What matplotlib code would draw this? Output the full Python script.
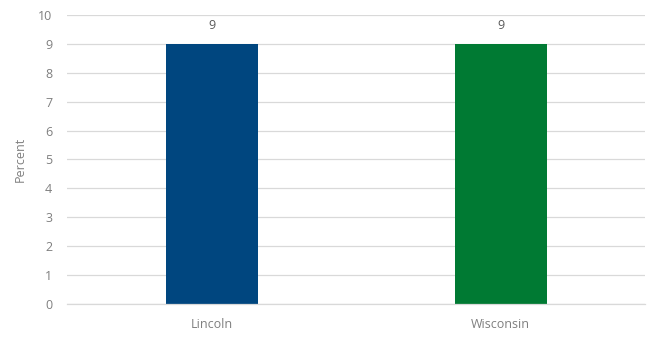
import matplotlib.pyplot as plt

# ── Data ──────────────────────────────────────────────────────────────────────
categories = ['Lincoln', 'Wisconsin']
values     = [9, 9]
bar_colors = ['#00467F', '#007A33']

# ── Style & Layout ────────────────────────────────────────────────────────────
plt.rcParams['font.family'] = ['Open Sans', 'DejaVu Sans']
fig = plt.figure(figsize=(6.55, 3.47), dpi=100)
ax = fig.add_axes([0.103, 0.124, 0.882, 0.833])

x = range(len(categories))
bars = ax.bar(x, values, width=0.318, color=bar_colors, zorder=2)
for bar, v in zip(bars, values):
    ax.text(bar.get_x() + bar.get_width() / 2, v + 0.4, str(v),
            ha='center', va='bottom', fontsize=9, color='#595959')

ax.set_xlim(-0.5, 1.5)
ax.set_ylim(0, 10)
ax.set_yticks(range(0, 11))
ax.set_xticks(list(x))
ax.set_xticklabels(categories)
ax.set_ylabel('Percent', fontsize=9, color='#7f7f7f', labelpad=8)
ax.grid(axis='y', color='#d9d9d9', lw=0.9, zorder=0)
ax.tick_params(axis='both', length=0, labelsize=9, labelcolor='#7f7f7f')
ax.tick_params(axis='x', pad=10)
ax.tick_params(axis='y', pad=11)
for side in ['top', 'right', 'left']:
    ax.spines[side].set_visible(False)
ax.spines['bottom'].set_color('#d9d9d9')
ax.spines['bottom'].set_linewidth(0.9)

plt.savefig('out.png', dpi=100, facecolor='white')
